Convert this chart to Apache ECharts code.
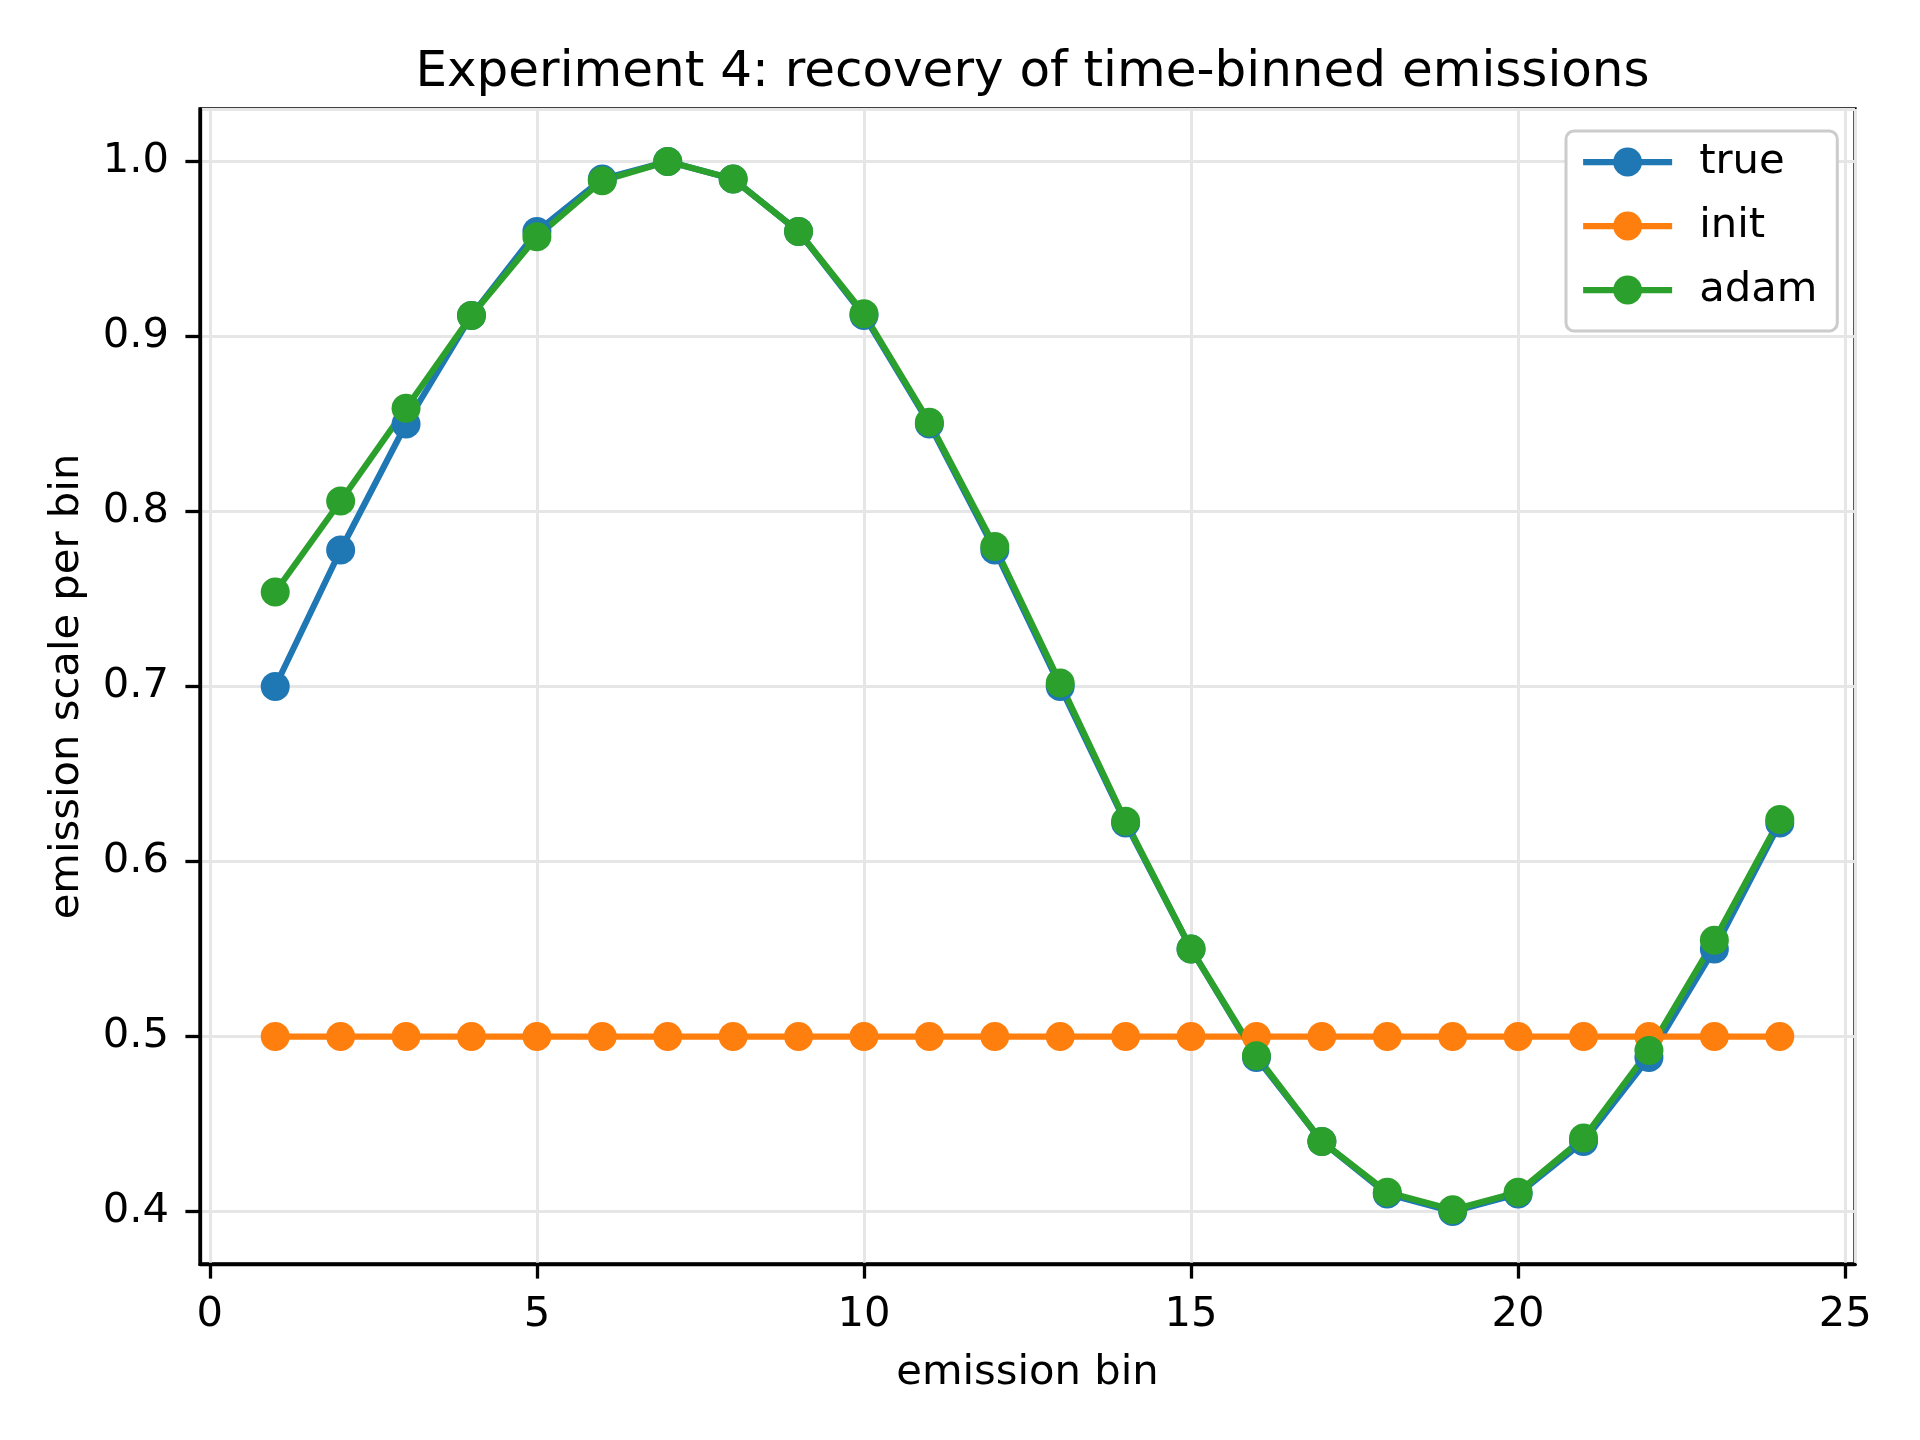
<!DOCTYPE html>
<html>
<head>
<meta charset="utf-8">
<script src="https://cdn.jsdelivr.net/npm/echarts@6/dist/echarts.min.js"></script>
<style>
  html, body { margin: 0; padding: 0; background: #fff; }
  #chart { width: 1920px; height: 1440px; }
</style>
</head>
<body>
<div id="chart"></div>
<script>
// bins and series
const bins = [1, 2, 3, 4, 5, 6, 7, 8, 9, 10, 11, 12, 13, 14, 15, 16, 17, 18, 19, 20, 21, 22, 23, 24]
const trueVals = [0.700, 0.778, 0.850, 0.912, 0.960, 0.990, 1.000, 0.990, 0.960, 0.912, 0.850, 0.778,
                  0.700, 0.622, 0.550, 0.488, 0.440, 0.410, 0.400, 0.410, 0.440, 0.488, 0.550, 0.622]
const initVals = [0.5, 0.5, 0.5, 0.5, 0.5, 0.5, 0.5, 0.5, 0.5, 0.5, 0.5, 0.5,
                  0.5, 0.5, 0.5, 0.5, 0.5, 0.5, 0.5, 0.5, 0.5, 0.5, 0.5, 0.5]
const adamVals = [0.754, 0.806, 0.859, 0.912, 0.957, 0.989, 1.000, 0.990, 0.960, 0.913, 0.851, 0.780,
                  0.702, 0.623, 0.550, 0.489, 0.440, 0.411, 0.401, 0.411, 0.442, 0.492, 0.555, 0.624]
const seriesNames = ['true', 'init', 'adam']
const colors = ['#1f77b4', '#ff7f0e', '#2ca02c']

const font = 'DejaVu Sans'
const tickLen = 14.6
const spineW = 3.3
const lineW = 6.25

const makeSeries = (name, vals, color) => ({
  name,
  type: 'line',
  data: bins.map((b, i) => [b, vals[i]]),
  symbol: 'circle',
  symbolSize: 29,
  color,
  lineStyle: { width: lineW, color },
  itemStyle: { color },
  emphasis: { disabled: true },
  animation: false
})

const chart = echarts.init(document.getElementById('chart'))
chart.setOption({
  animation: false,
  backgroundColor: '#fff',
  title: {
    text: 'Experiment 4: recovery of time-binned emissions',
    left: 1027.5,
    textAlign: 'center',
    top: 43,
    textStyle: { fontFamily: font, fontSize: 50, fontWeight: 'normal', color: '#000' }
  },
  legend: {
    orient: 'vertical',
    left: 1566,
    top: 131,
    padding: [10, 20, 20, 14],
    itemWidth: 89,
    itemHeight: 36,
    itemGap: 22,
    backgroundColor: '#fff',
    borderColor: '#cccccc',
    borderWidth: 3,
    borderRadius: 8,
    data: seriesNames,
    lineStyle: { width: lineW },
    textStyle: { fontFamily: font, fontSize: 41.7, color: '#000', padding: [0, 0, 0, 22] }
  },
  grid: {
    left: 200, right: 65, top: 109, bottom: 176,
    show: true, borderColor: '#000', borderWidth: spineW, backgroundColor: 'transparent'
  },
  xAxis: {
    type: 'value',
    min: -0.15,
    max: 25.15,
    splitNumber: 5,
    name: 'emission bin',
    nameLocation: 'middle',
    nameGap: 88,
    nameTextStyle: { fontFamily: font, fontSize: 41.7, color: '#000' },
    axisLine: { show: true, onZero: false, lineStyle: { color: '#000', width: spineW } },
    axisTick: { show: true, length: tickLen, lineStyle: { color: '#000', width: spineW } },
    axisLabel: {
      fontFamily: font, fontSize: 41.7, color: '#000', margin: 30,
      showMinLabel: false, showMaxLabel: false
    },
    splitLine: { show: true, lineStyle: { color: '#e6e6e6', width: 3 } }
  },
  yAxis: {
    type: 'value',
    min: 0.37,
    max: 1.03,
    splitNumber: 6,
    name: 'emission scale per bin',
    nameLocation: 'middle',
    nameGap: 112,
    nameTextStyle: { fontFamily: font, fontSize: 41.7, color: '#000' },
    axisLine: { show: true, onZero: false, lineStyle: { color: '#000', width: spineW } },
    axisTick: { show: true, length: tickLen, lineStyle: { color: '#000', width: spineW } },
    axisLabel: {
      fontFamily: font, fontSize: 41.7, color: '#000', margin: 31,
      showMinLabel: false, showMaxLabel: false,
      formatter: v => v.toFixed(1)
    },
    splitLine: { show: true, lineStyle: { color: '#e6e6e6', width: 3 } }
  },
  series: [
    makeSeries(seriesNames[0], trueVals, colors[0]),
    makeSeries(seriesNames[1], initVals, colors[1]),
    makeSeries(seriesNames[2], adamVals, colors[2])
  ]
})
</script>
</body>
</html>
